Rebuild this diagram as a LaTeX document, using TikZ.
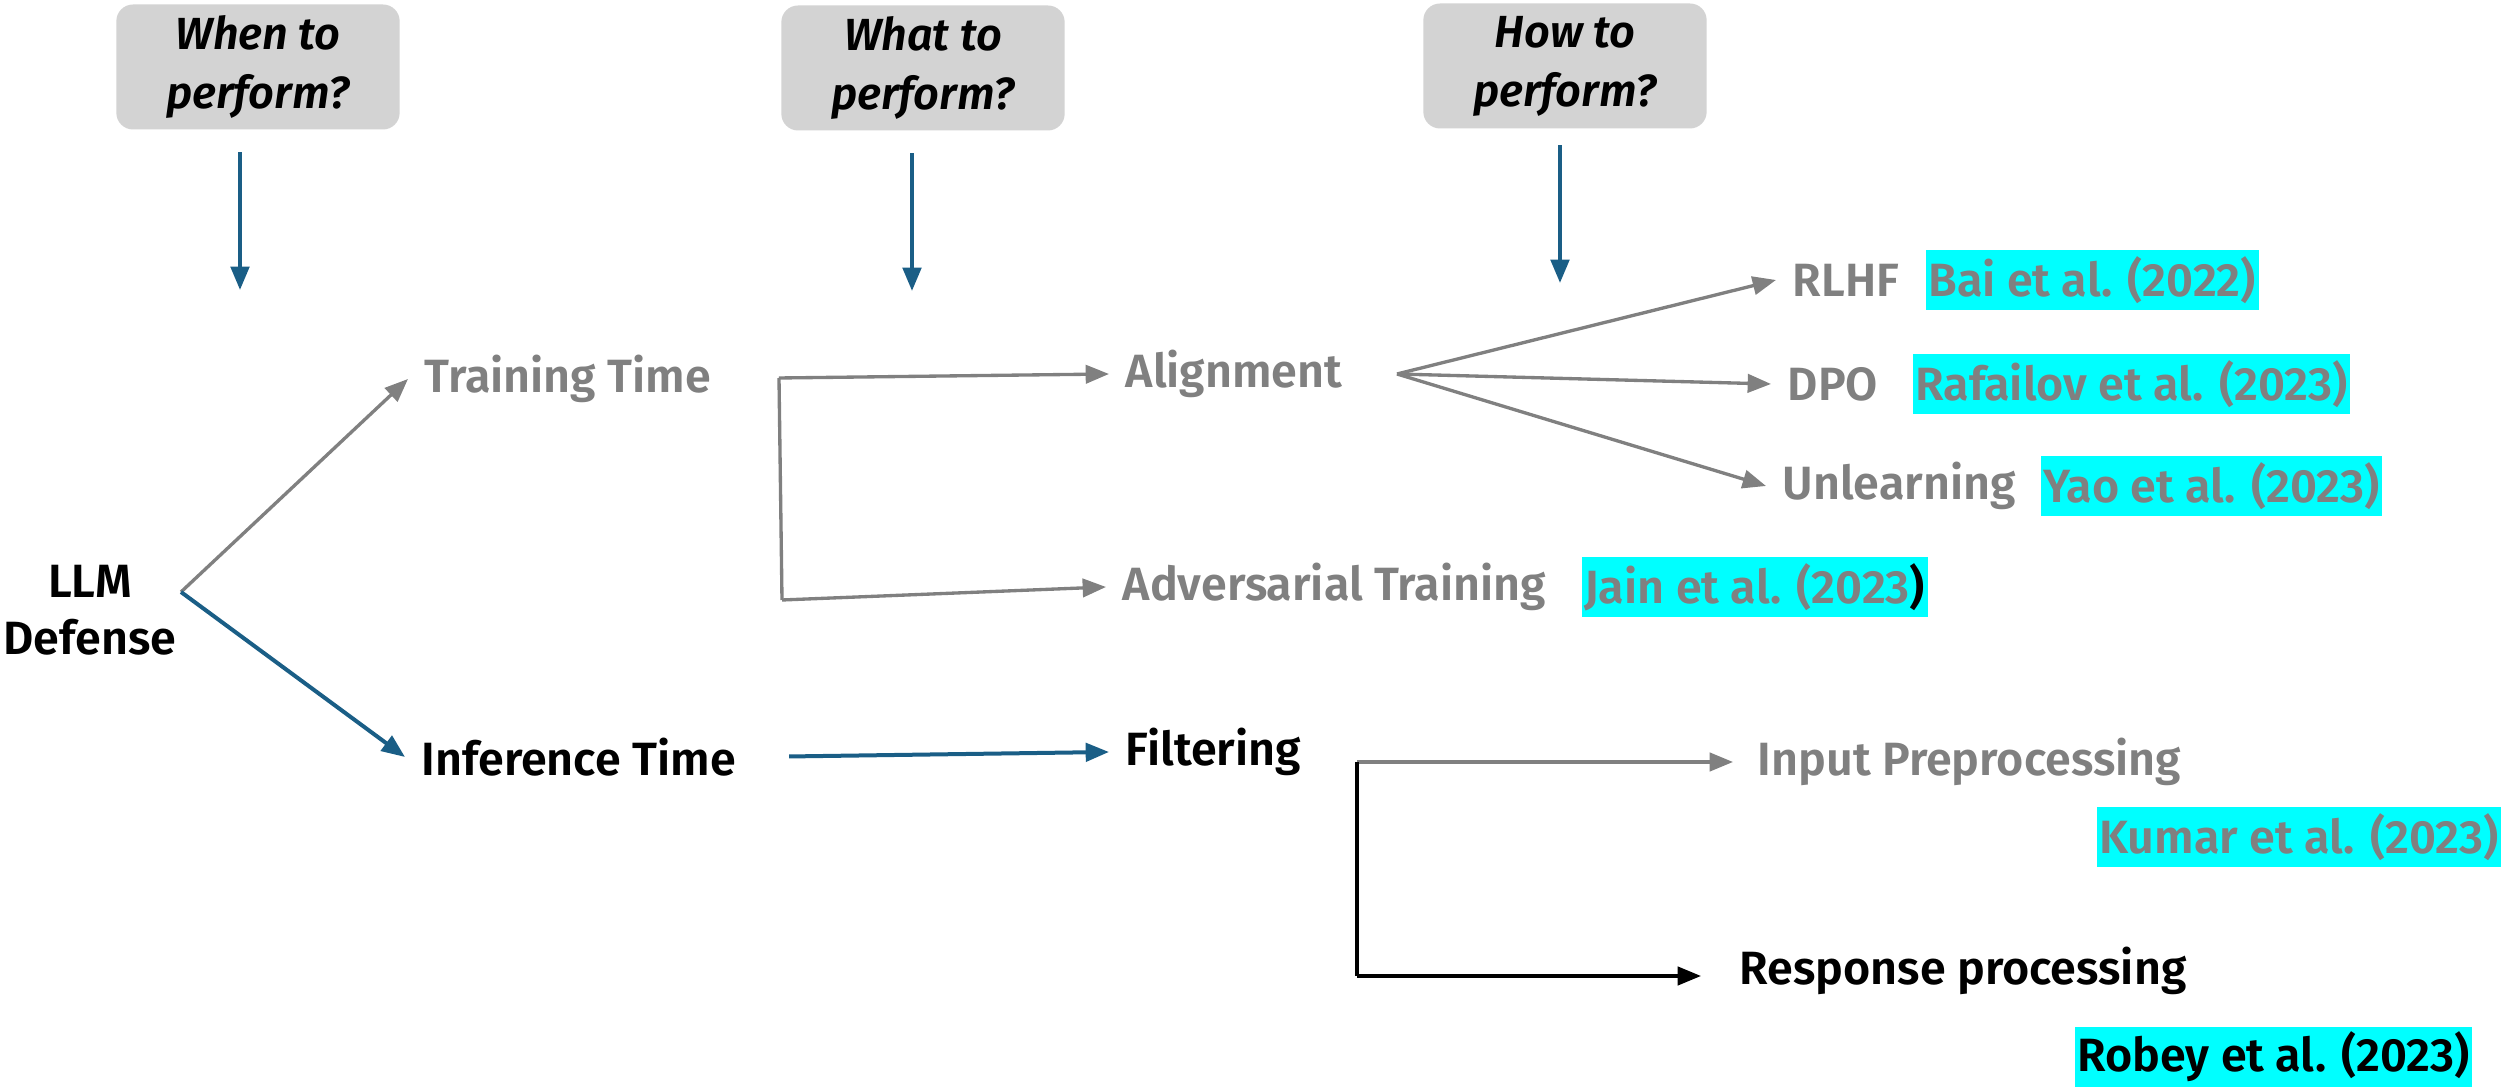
\documentclass[tikz,border=0pt]{standalone}
\usepackage{fontspec}
\setmainfont{Fira Sans}[BoldFont={Fira Sans SemiBold}, BoldItalicFont={Fira Sans SemiBold Italic}]
\usepackage{tikz}
\usetikzlibrary{arrows.meta, positioning, calc}

\definecolor{flowblue}{HTML}{1A5E86}
\definecolor{labelgray}{HTML}{808080}
\definecolor{qboxgray}{HTML}{D3D3D3}
\definecolor{citecyan}{HTML}{00FFFF}

\tikzset{
  question/.style={rectangle, rounded corners=5pt, fill=qboxgray, minimum width=85pt, minimum height=37.5pt,
    align=center, font=\fontsize{13.5}{17.7}\selectfont\bfseries\itshape, inner sep=0pt},
  topic/.style={anchor=west, inner xsep=4.8pt, inner ysep=0pt, font=\fontsize{14}{16}\selectfont\bfseries},
  faded/.style={topic, text=labelgray},
  cite/.style={anchor=west, fill=citecyan, text=labelgray, minimum height=18pt, inner xsep=0.8pt, inner ysep=0pt,
    font=\fontsize{14}{16}\selectfont\bfseries},
  tip/.style={-{Triangle[length=7pt,width=5.5pt]}},
  flow/.style={tip, line width=1.2pt, draw=flowblue},
  grayflow/.style={tip, line width=1pt, draw=labelgray},
  grayline/.style={line width=1pt, draw=labelgray},
  blackflow/.style={tip, line width=1pt, draw=black},
}

\begin{document}
\begin{tikzpicture}[x=0.3pt, y=-0.3pt]
    \useasboundingbox (0,0) rectangle (2509,1088);

    % questions on top
    \node[question] (when) at (258,67) {\raisebox{-1.5pt}{\parbox{80pt}{\centering When to\\perform?}}};
    \node[question] (what) at (923,68) {\raisebox{-1.5pt}{\parbox{80pt}{\centering What to\\perform?}}};
    \node[question] (how) at (1565,66) {\raisebox{-1.5pt}{\parbox{80pt}{\centering How to\\perform?}}};
    \coordinate (when-tip) at (240,290);
    \coordinate (what-tip) at (912,291);
    \coordinate (how-tip) at (1560,283);
    \draw[flow, shorten <=6.6pt] (when.south -| when-tip) -- (when-tip);
    \draw[flow, shorten <=6.6pt] (what.south -| what-tip) -- (what-tip);
    \draw[flow, shorten <=4.8pt] (how.south -| how-tip) -- (how-tip);

    % root and the two stages
    \node[align=center, font=\fontsize{14}{17}\selectfont\bfseries, inner sep=0pt] (root) at (90,610) {LLM\\Defense};
    \coordinate (root-fork) at (181,592);
    \node[faded] (train) at (408,379) {Training Time};
    \node[topic] (infer) at (405,757) {Inference Time};
    \draw[grayflow] (root-fork) -- (train.west);
    \draw[flow] (root-fork) -- (infer.west);

    % training time branch
    \node[faded] (align) at (1109,374) {Alignment};
    \node[faded] (adv) at (1106,587) {Adversarial Training};
    \node[cite] (jain) at (1581,587) {Jain et al. (2023\textcolor{black}{)}};
    \coordinate (train-top) at (779,378);
    \coordinate (train-bot) at (782,600);
    \draw[grayline] (train-top) -- (train-bot);
    \draw[grayflow] (train-top) -- (align.west);
    \draw[grayflow] (train-bot) -- (adv.west);

    % alignment methods
    \coordinate (align-fork) at (1397,374);
    \node[faded] (rlhf) at (1776,280) {RLHF};
    \node[faded] (dpo) at (1771,384) {DPO};
    \node[faded] (unlearn) at (1766,486) {Unlearning};
    \node[cite] (bai) at (1925,280) {Bai et al. (2022)};
    \node[cite] (rafailov) at (1912,384) {Rafailov et al. (2023)};
    \node[cite] (yao) at (2040,486) {Yao et al. (2023)};
    \draw[grayflow] (align-fork) -- (rlhf.west);
    \draw[grayflow] (align-fork) -- (dpo.west);
    \draw[grayflow] (align-fork) -- (unlearn.west);

    % inference time branch
    \node[topic] (filter) at (1109,752) {Filtering};
    \draw[flow, shorten <=11pt] (infer.east) -- (filter.west);
    \node[faded] (inprep) at (1741,762) {Input Preprocessing};
    \node[topic] (resp) at (1723,971) {Response processing};
    \node[cite] (kumar) at (2096,837) {Kumar et al. (2023)};
    \node[cite, text=black] (robey) at (2074,1057) {Robey et al. (2023)};
    \coordinate (filter-top) at (1357,762);
    \coordinate (filter-bot) at (1357,976);
    \draw[grayflow, shorten >=2.4pt] (filter-top) -- (inprep.west);
    \draw[line width=1pt] (filter-top) -- (filter-bot);
    \draw[blackflow, shorten >=6.6pt] (filter-bot) -- (resp.west |- filter-bot);
\end{tikzpicture}
\end{document}
